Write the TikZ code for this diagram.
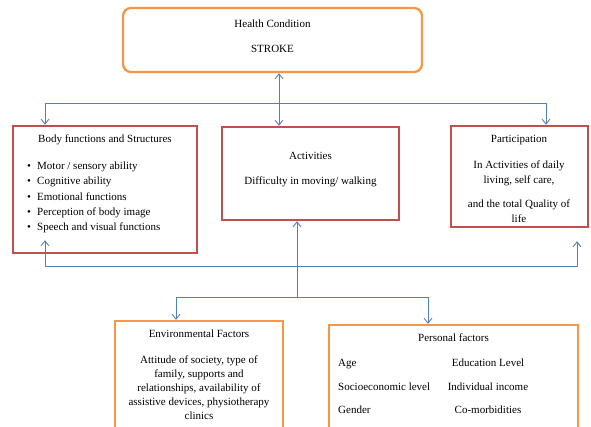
\documentclass[tikz,border=0pt]{standalone}
\usepackage{fontspec}
\setmainfont{Liberation Serif}
\usetikzlibrary{arrows.meta,calc}
\usepackage{xcolor}
\definecolor{icforange}{HTML}{F79646}
\definecolor{icfred}{HTML}{C0504D}
\definecolor{icfblue}{HTML}{4F81BD}
\newcommand{\icfbul}{\makebox[10pt][l]{\textbullet}}

\begin{document}
\begin{tikzpicture}[
    x=1pt, y=-1pt,
    font=\fontsize{11}{14}\selectfont,
    orbox/.style={draw=icforange, line width=2.3pt, inner sep=0pt},
    rdbox/.style={draw=icfred, line width=2.4pt, inner sep=0pt},
    txt/.style={align=center, inner sep=0pt},
    lk/.style={draw=icfblue, line width=0.9pt,
      {Straight Barb[length=5pt,width=8pt]}-{Straight Barb[length=5pt,width=8pt]}},
    lkend/.style={draw=icfblue, line width=0.9pt, -{Straight Barb[length=5pt,width=8pt]}}
  ]
    \clip (0,0) rectangle (591,427);

    % boxes
    \node[orbox, rounded corners=8pt, minimum width=299pt, minimum height=64pt] (health) at (272.5,40) {};
    \node[rdbox, minimum width=184pt, minimum height=127pt] (body) at (105,189.5) {};
    \node[rdbox, minimum width=177pt, minimum height=93pt] (act) at (310.5,173.5) {};
    \node[rdbox, minimum width=137pt, minimum height=101pt] (part) at (519.5,176.5) {};
    \node[orbox, minimum width=168pt, minimum height=124pt] (env) at (199,383) {};
    \node[orbox, minimum width=249pt, minimum height=120pt] (pers) at (453.5,385) {};

    % texts
    \node[txt] (healthTxt) at (272.5,36.5) {Health Condition\\[11pt]STROKE};
    \node[txt] (bodyHead) at (105,140) {Body functions and Structures};
    \node[txt, align=left, anchor=west, font=\fontsize{11}{15.3}\selectfont] (bodyList) at (27,197.5)
      {\icfbul Motor / sensory ability\\\icfbul Cognitive ability\\\icfbul Emotional functions\\
       \icfbul Perception of body image\\\icfbul Speech and visual functions};
    \node[txt] (actTxt) at (310.5,169.5) {Activities\\[11pt]Difficulty in moving/ walking};
    \node[txt, font=\fontsize{11}{15}\selectfont] (partTxt) at (519,178.5)
      {Participation\\[11pt]In Activities of daily\\living, self care,\\[9pt]and the total Quality of\\life};
    \node[txt] (envTxt) at (199,374.5)
      {Environmental Factors\\[12pt]Attitude of society, type of\\family, supports and\\relationships, availability of\\assistive devices, physiotherapy\\clinics};
    \node[txt] (persHead) at (453.5,338) {Personal factors};
    \node[txt, align=left, anchor=west] (persLeft) at (338,386.5) {Age\\[9.5pt]Socioeconomic level\\[9.5pt]Gender};
    \node[txt] (persRight) at (488,386.5) {Education Level\\[9.5pt]Individual income\\[9.5pt]Co-morbidities};

    % upper links
    \coordinate (topL) at (45,103);
    \coordinate (topR) at (546,103);
    \coordinate (midX) at (279,103);
    \draw[lk] (health.south -| midX) -- (act.north -| midX);
    \draw[lk] (body.north -| topL) -- (topL) -- (topR) -- (part.north -| topR);

    % lower links
    \coordinate (botL) at (45,266);
    \coordinate (botR) at (577,266);
    \draw[lk] ($(body.south -| botL)+(0,-14)$) -- (botL) -- (botR) -- ($(part.south -| botR)+(0,13)$);
    \coordinate (lowM) at (297,297);
    \coordinate (lowL) at (176,297);
    \coordinate (lowR) at (428,297);
    \draw[lkend] (lowM) -- (act.south -| lowM);
    \draw[lk] (env.north -| lowL) -- (lowL) -- (lowR) -- (pers.north -| lowR);

  \end{tikzpicture}
\end{document}
